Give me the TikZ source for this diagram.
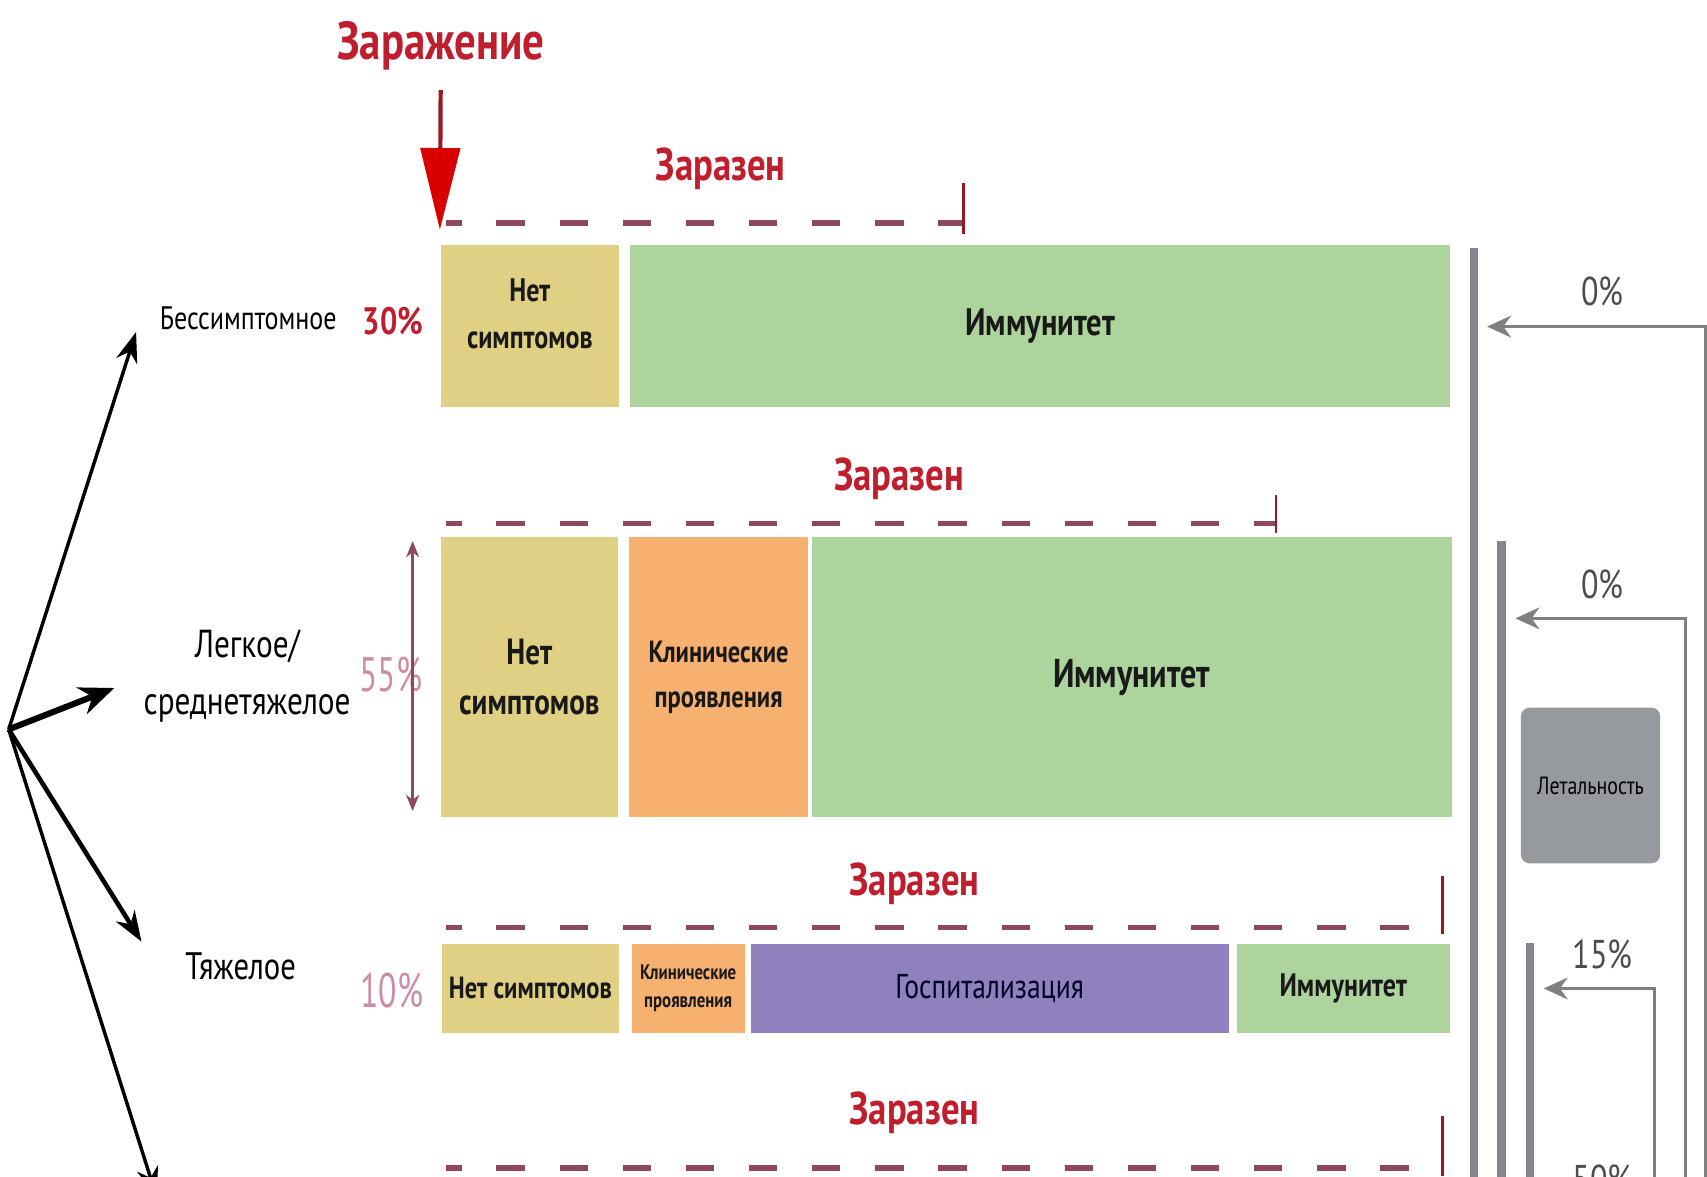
\documentclass[tikz,border=0pt]{standalone}
\usepackage{fontspec}
\setmainfont{PT Sans}[FakeStretch=0.8]
\usetikzlibrary{arrows.meta,positioning}

\definecolor{nosymcol}{RGB}{224,208,132}
\definecolor{immcol}{RGB}{172,212,156}
\definecolor{clincol}{RGB}{246,177,112}
\definecolor{hospcol}{RGB}{144,128,190}
\definecolor{barcol}{RGB}{134,134,142}
\definecolor{letcol}{RGB}{150,153,157}
\definecolor{zarred}{RGB}{192,30,45}
\definecolor{dashcol}{RGB}{142,72,92}
\definecolor{pctfade}{RGB}{205,140,165}
\definecolor{linegray}{RGB}{128,128,128}

\tikzset{
  stage/.style={rectangle, inner sep=0pt, align=center, anchor=north west, text=black!90},
  nosym/.style={stage, fill=nosymcol},
  clin/.style={stage, fill=clincol},
  immun/.style={stage, fill=immcol},
  hosp/.style={stage, fill=hospcol},
  zaraz/.style={text=zarred, font=\bfseries\fontsize{12}{14}\selectfont},
  period/.style={dashcol, line width=1.4pt, dash pattern=on 0.26cm off 0.32cm, dash phase=0.12cm},
  endtick/.style={zarred!80!black, line width=0.7pt},
  branch/.style={-{Stealth[length=0.28cm, width=0.2cm]}, line width=0.9pt},
  vbar/.style={barcol, line width=0.08cm},
  fate/.style={linegray, line width=0.8pt, -{Stealth[length=0.22cm, width=0.2cm]}},
  pct/.style={text=black!70, font=\fontsize{10.5}{12}\selectfont},
  share/.style={text=pctfade, font=\fontsize{11}{13}\selectfont},
}

\begin{document}
\begin{tikzpicture}
\useasboundingbox (0,0) rectangle (15.68,-10.81);

% Infection
\node[zaraz, font=\bfseries\fontsize{14}{16}\selectfont] (inf) at (4.05,-0.42) {Заражение};

% Row 1
\node[nosym, minimum width=1.64cm, minimum height=1.49cm, font=\bfseries\fontsize{8.5}{12.2}\selectfont] (n1) at (4.04,-2.24) {Нет\\симптомов\\[-6pt]};
\node[immun, minimum width=7.53cm, minimum height=1.49cm, right=0.09cm of n1, font=\bfseries\fontsize{10}{12}\selectfont] (i1) {Иммунитет};

% Row 2
\node[nosym, minimum width=1.63cm, minimum height=2.57cm, font=\bfseries\fontsize{9.5}{13}\selectfont] (n2) at (4.04,-4.93) {Нет\\симптомов};
\node[clin, minimum width=1.64cm, minimum height=2.57cm, right=0.09cm of n2, font=\bfseries\fontsize{8}{11.7}\selectfont] (k2) {Клинические\\проявления};
\node[immun, minimum width=5.88cm, minimum height=2.57cm, right=0.02cm of k2, font=\bfseries\fontsize{10.5}{12}\selectfont] (i2) {Иммунитет};

% Row 3
\node[nosym, minimum width=1.63cm, minimum height=0.82cm, font=\bfseries\fontsize{8}{10}\selectfont] (n3) at (4.05,-8.66) {Нет симптомов};
\node[clin, minimum width=1.04cm, minimum height=0.82cm, right=0.10cm of n3, font=\bfseries\fontsize{5.5}{7.4}\selectfont] (k3) {Клинические\\проявления};
\node[hosp, minimum width=4.39cm, minimum height=0.82cm, right=0.04cm of k3, font=\fontsize{9}{11}\selectfont, text=black!85!blue] (h3) {Госпитализация};
\node[immun, minimum width=1.96cm, minimum height=0.82cm, right=0.06cm of h3, font=\bfseries\fontsize{8.5}{10}\selectfont] (i3) {Иммунитет};

% Contagious periods
\coordinate (p1s) at (4.10,-2.05); \coordinate (p1e) at (8.85,-2.05);
\coordinate (p2s) at (4.10,-4.81); \coordinate (p2e) at (11.72,-4.81);
\coordinate (p3s) at (4.10,-8.52); \coordinate (p3e) at (13.25,-8.52);
\coordinate (p4s) at (4.10,-10.73); \coordinate (p4e) at (13.25,-10.73);
\draw[period] (p1s) -- (p1e);
\draw[period] (p2s) -- (p2e);
\draw[period] (p3s) -- (p3e);
\draw[period] (p4s) -- (p4e);
\draw[endtick] ([yshift=0.37cm]p1e) -- ([yshift=-0.10cm]p1e);
\draw[endtick] ([yshift=0.26cm]p2e) -- ([yshift=-0.09cm]p2e);
\draw[endtick] ([yshift=0.47cm]p3e) -- ([yshift=-0.06cm]p3e);
\draw[endtick] ([yshift=0.48cm]p4e) -- ([yshift=-0.07cm]p4e);
\node[zaraz] (z1) at (6.62,-1.55) {Заразен};
\node[zaraz] (z2) at (8.26,-4.40) {Заразен};
\node[zaraz] (z3) at (8.40,-8.12) {Заразен};
\node[zaraz] (z4) at (8.40,-10.22) {Заразен};

\draw[zarred!80!black, line width=1.1pt, shorten <=0.06cm, shorten >=0.13cm,
  -{Triangle[length=0.75cm, width=0.36cm, color=red!85!black, fill=red!85!black]}] (inf) -- (n1.north west);

% Forms and shares
\node[font=\fontsize{8.5}{10}\selectfont] (asym) at (2.28,-2.92) {Бессимптомное};
\node[text=zarred, font=\bfseries\fontsize{10}{12}\selectfont] (s1) at (3.61,-2.95) {30\%};
\node[align=center, font=\fontsize{10.2}{14.8}\selectfont] (mild) at (2.27,-6.21) {Легкое/\\среднетяжелое};
\node[share, yscale=1.15] (s2) at (3.59,-6.20) {55\%};
\node[font=\fontsize{10}{12}\selectfont] (sev) at (2.21,-8.88) {Тяжелое};
\node[share, yscale=1.15] (s3) at (3.60,-9.10) {10\%};
\node[anchor=east, font=\fontsize{10}{12}\selectfont] (all) at (0.12,-6.36) {\%)};

\coordinate (h2t) at (3.79,-4.97); \coordinate (h2b) at (3.79,-7.45);
\draw[dashcol, line width=0.6pt, {Stealth[length=0.15cm, width=0.12cm]}-{Stealth[length=0.15cm, width=0.12cm]}] (h2t) -- (h2b);

% Branches
\coordinate (root) at (0.08,-6.70);
\coordinate (t1) at (1.25,-3.05);
\coordinate (t2) at (1.05,-6.32);
\coordinate (t3) at (1.30,-8.65);
\coordinate (t4) at (1.44,-11.0);
\draw[branch] (root) -- (t1);
\draw[branch, line width=1.6pt, -{Stealth[length=0.32cm, width=0.26cm]}] (root) -- (t2);
\draw[branch, line width=1.2pt] (root) -- (t3);
\draw[branch] (root) -- (t4);

% Outcome bars
\draw[vbar] (13.54,-2.28) -- (13.54,-11.0);
\draw[vbar] (13.79,-4.97) -- (13.79,-11.0);
\draw[vbar] (14.055,-8.66) -- (14.055,-11.0);

\coordinate (f1s) at (15.665,-11.0); \coordinate (f1e) at (13.66,-3.00);
\coordinate (f2s) at (15.48,-11.0); \coordinate (f2e) at (13.92,-5.68);
\coordinate (f3s) at (15.20,-11.0); \coordinate (f3e) at (14.18,-9.08);
\draw[fate] (f1s) |- (f1e);
\draw[fate] (f2s) |- (f2e);
\draw[fate] (f3s) |- (f3e);
\node[pct] (m1) at (14.72,-2.68) {0\%};
\node[pct] (m2) at (14.72,-5.37) {0\%};
\node[pct] (m3) at (14.72,-8.77) {15\%};
\node[pct] (m4) at (14.72,-10.83) {50\%};

\node[rounded corners=0.08cm, fill=letcol, minimum width=1.28cm, minimum height=1.43cm, font=\fontsize{6.5}{8}\selectfont] (let) at (14.61,-7.215) {Летальность};
\end{tikzpicture}
\end{document}
